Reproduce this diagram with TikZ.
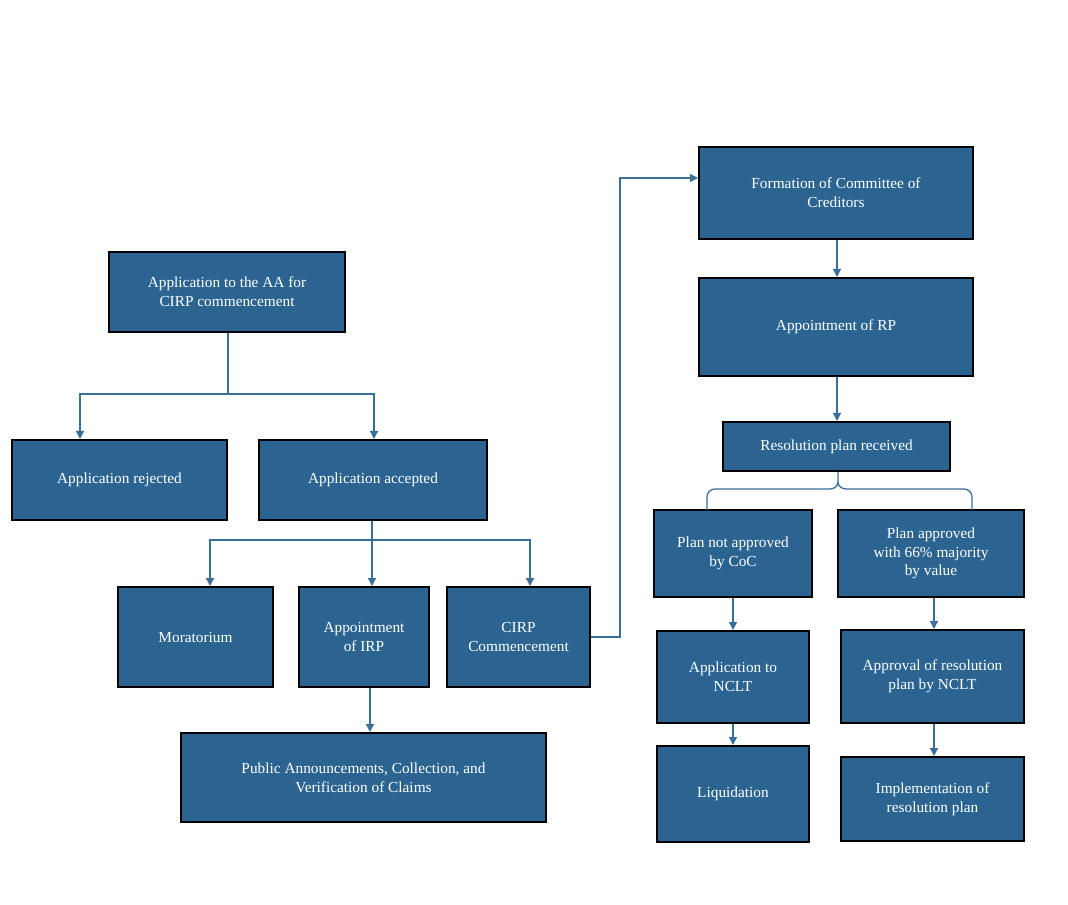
\documentclass[tikz,border=0pt]{standalone}
\usepackage{fontspec}
\setmainfont{Liberation Serif}
\usetikzlibrary{arrows.meta}
\definecolor{bx}{HTML}{2B6491}
\definecolor{ln}{HTML}{3A6F9A}
\begin{document}
\begin{tikzpicture}[x=0.75pt,y=-0.75pt,
  box/.style={draw=black,line width=1.5pt,fill=bx,text=white,align=center,font=\fontsize{11.5}{14}\selectfont},
  ar/.style={draw=ln,line width=1pt,-{Triangle[length=6pt,width=6pt]}},
  ln/.style={draw=ln,line width=1pt}]
\useasboundingbox (0,0) rectangle (1068,905);
\newcommand\bx[6]{\node[box,minimum width={(#4-#2)*0.75pt},minimum height={(#5-#3)*0.75pt},inner sep=1pt] (#1) at ({(#2+#4)/2},{(#3+#5)/2}) {#6};}
\bx{A}{109}{252}{345}{332}{Application to the AA for\\CIRP commencement}
\bx{rej}{12}{440}{227}{520}{Application rejected}
\bx{acc}{259}{440}{487}{520}{Application accepted}
\bx{mor}{118}{587}{273}{687}{Moratorium}
\bx{irp}{299}{587}{429}{687}{Appointment\\of IRP}
\bx{cirp}{447}{587}{590}{687}{CIRP\\Commencement}
\bx{pub}{181}{733}{546}{822}{Public Announcements, Collection, and\\Verification of Claims}
\bx{coc}{699}{147}{973}{239}{Formation of Committee of\\Creditors}
\bx{rp}{699}{278}{973}{376}{Appointment of RP}
\bx{res}{723}{422}{950}{471}{Resolution plan received}
\bx{na}{654}{510}{812}{597}{Plan not approved\\by CoC}
\bx{ap}{838}{510}{1024}{597}{Plan approved\\with 66\% majority\\by value}
\bx{nclt}{657}{631}{809}{723}{Application to\\NCLT}
\bx{apn}{841}{630}{1024}{723}{Approval of resolution\\plan by NCLT}
\bx{liq}{657}{746}{809}{842}{Liquidation}
\bx{imp}{841}{757}{1024}{841}{Implementation of\\resolution plan}
\coordinate (j1) at (228,394);
\draw[ln] (A.south -| j1) -- (j1);
\draw[ar] (j1) -| (rej.north -| 80,0);
\draw[ar] (j1) -| (acc.north -| 374,0);
\coordinate (j2) at (372,540);
\draw[ln] (acc.south -| j2) -- (j2);
\draw[ar] (j2) -| (mor.north -| 210,0);
\draw[ar] (j2) -- (irp.north -| j2);
\draw[ar] (j2) -| (cirp.north -| 530,0);
\draw[ar] (irp.south -| 370,0) -- (pub.north -| 370,0);
\coordinate (c1) at (620,178);
\draw[ar] (cirp.east) -- (620,637) -- (c1) -- (coc.west |- c1);
\draw[ar] (coc.south -| 837,0) -- (rp.north -| 837,0);
\draw[ar] (rp.south -| 837,0) -- (res.north -| 837,0);
\draw[ln] (res.south -| 838,0) -- (838,482) to[out=-90,in=0] (830,489) -- (715,489) to[out=180,in=90] (707,497) -- (707,510);
\draw[ln] (838,482) to[out=-90,in=180] (846,489) -- (964,489) to[out=0,in=90] (972,497) -- (972,510);
\draw[ar] (na.south -| 733,0) -- (nclt.north -| 733,0);
\draw[ar] (nclt.south -| 733,0) -- (liq.north -| 733,0);
\draw[ar] (ap.south -| 934,0) -- (apn.north -| 934,0);
\draw[ar] (apn.south -| 934,0) -- (imp.north -| 934,0);
\end{tikzpicture}
\end{document}
